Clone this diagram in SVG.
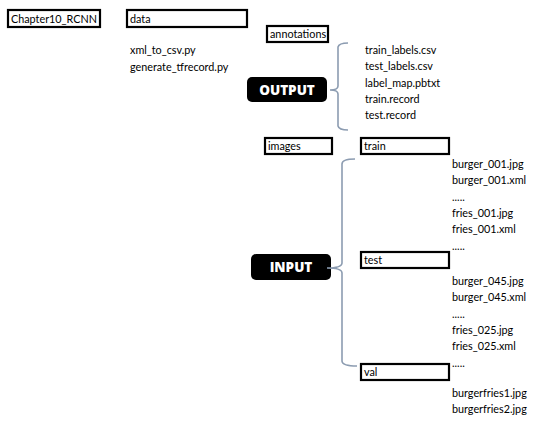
<svg xmlns="http://www.w3.org/2000/svg" width="538" height="425" viewBox="0 0 538 425">
<style>
text{font-family:Lato,"Open Sans","Liberation Sans",sans-serif;font-size:10.8px;fill:#000}
.box{fill:#fff;stroke:#000;stroke-width:2.2}
.tag{fill:#000}
.tagt{font-family:"Open Sans","Liberation Sans",sans-serif;font-weight:800;font-size:13.5px;fill:#fff;text-anchor:middle}
.br{fill:none;stroke:#8c9cb1;stroke-width:1.6}
</style>
<rect width="538" height="425" fill="#fff"/>
<g id="chapter"><rect class="box" x="8" y="10" width="92" height="17"/><text x="11" y="22.5">Chapter10_RCNN</text></g>
<g id="data"><rect class="box" x="127" y="10" width="120" height="17"/><text x="130" y="22.5">data</text></g>
<g id="data-files"><text x="130" y="54">xml_to_csv.py</text><text x="130" y="70.5">generate_tfrecord.py</text></g>
<g id="annotations"><rect class="box" x="267" y="26" width="61" height="16"/><text x="270" y="38">annotations</text></g>
<g id="output"><rect class="tag" x="247" y="77" width="80" height="25" rx="5"/><text class="tagt" x="287" y="94.5">OUTPUT</text></g>
<g id="output-files"><text x="365" y="54">train_labels.csv</text><text x="365" y="70.3">test_labels.csv</text><text x="365" y="86.6">label_map.pbtxt</text><text x="365" y="102.9">train.record</text><text x="365" y="119.2">test.record</text></g>
<g id="images"><rect class="box" x="265" y="138" width="67" height="16"/><text x="268" y="150">images</text></g>
<g id="train"><rect class="box" x="361" y="138" width="88" height="16"/><text x="364" y="150">train</text></g>
<g id="train-files"><text x="452" y="168">burger_001.jpg</text><text x="452" y="184.3">burger_001.xml</text><text x="452" y="200.6">.....</text><text x="452" y="216.9">fries_001.jpg</text><text x="452" y="233.2">fries_001.xml</text><text x="452" y="249.5">.....</text></g>
<g id="input"><rect class="tag" x="251" y="254" width="80" height="26" rx="5"/><text class="tagt" x="291" y="272">INPUT</text></g>
<g id="test"><rect class="box" x="361" y="252" width="88" height="16"/><text x="364" y="264">test</text></g>
<g id="test-files"><text x="452" y="285">burger_045.jpg</text><text x="452" y="301.3">burger_045.xml</text><text x="452" y="317.6">.....</text><text x="452" y="333.9">fries_025.jpg</text><text x="452" y="350.2">fries_025.xml</text><text x="452" y="366.5">.....</text></g>
<g id="val"><rect class="box" x="361" y="364" width="88" height="16"/><text x="364" y="376">val</text></g>
<g id="val-files"><text x="452" y="397">burgerfries1.jpg</text><text x="452" y="413.3">burgerfries2.jpg</text></g>
<g id="connectors">
<path class="br" d="M348,43 Q339,43 338,47 L338,86 Q338,90 330,90 Q338,90 338,94 L338,126 Q339,130 348,130"/>
<path class="br" d="M355,159 Q342,159 342,164 L342,263 Q342,268 327,268 Q342,268 342,273 L342,361 Q342,366 357,366"/>
</g>
</svg>
